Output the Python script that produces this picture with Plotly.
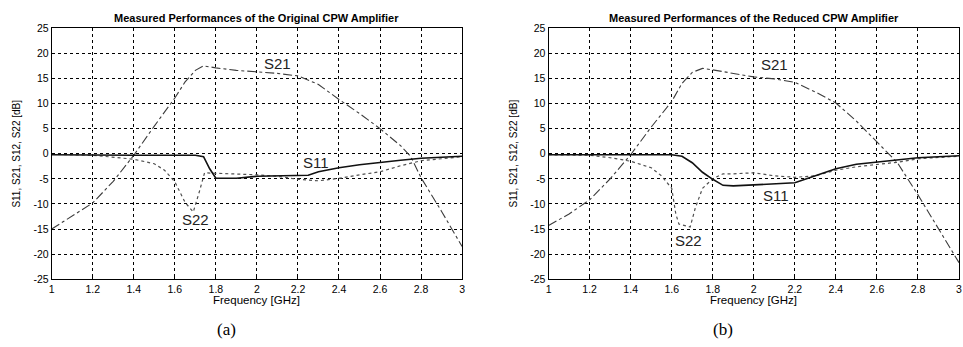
import plotly.graph_objects as go

# ---- data: (a) Original CPW amplifier ----
f_a_s21 = [1.0, 1.1, 1.2, 1.3, 1.4, 1.5, 1.6, 1.65, 1.7, 1.74, 1.8, 1.9, 2.0, 2.1, 2.2, 2.3, 2.4, 2.5, 2.6, 2.7, 2.75, 2.8, 2.9, 3.0]
s21_a = [-15.0, -12.4, -9.8, -5.5, -0.3, 5.5, 11.1, 14.3, 16.6, 17.5, 17.1, 16.6, 16.3, 16.0, 15.5, 13.8, 10.8, 8.0, 5.0, 1.6, -0.6, -4.8, -11.5, -18.5]

f_a_s11 = [1.0, 1.2, 1.4, 1.6, 1.7, 1.74, 1.77, 1.8, 1.9, 2.0, 2.1, 2.2, 2.25, 2.3, 2.4, 2.5, 2.6, 2.7, 2.8, 2.9, 3.0]
s11_a = [-0.2, -0.3, -0.3, -0.3, -0.3, -0.6, -3.0, -4.9, -4.9, -4.5, -4.4, -4.4, -4.3, -3.6, -2.8, -2.2, -1.7, -1.3, -0.9, -0.7, -0.5]

f_a_s22 = [1.0, 1.2, 1.4, 1.5, 1.55, 1.6, 1.65, 1.69, 1.72, 1.745, 1.8, 1.9, 2.0, 2.1, 2.2, 2.3, 2.4, 2.5, 2.6, 2.7, 2.8, 2.9, 3.0]
s22_a = [-0.1, -0.3, -1.1, -2.0, -3.3, -5.6, -9.7, -11.6, -7.5, -3.8, -3.9, -4.0, -4.2, -4.5, -5.1, -5.4, -4.9, -4.2, -3.6, -2.4, -1.4, -1.0, -0.6]

# ---- data: (b) Reduced CPW amplifier ----
f_b_s21 = [1.0, 1.1, 1.2, 1.3, 1.4, 1.5, 1.6, 1.65, 1.7, 1.75, 1.8, 1.9, 2.0, 2.1, 2.2, 2.3, 2.4, 2.5, 2.6, 2.7, 2.8, 2.9, 3.0]
s21_b = [-14.3, -12.0, -9.2, -5.0, -0.2, 5.3, 10.4, 14.0, 16.2, 17.0, 16.7, 16.0, 15.3, 14.9, 14.2, 12.3, 10.1, 6.5, 2.4, -1.8, -8.2, -15.0, -21.7]

f_b_s11 = [1.0, 1.2, 1.4, 1.6, 1.65, 1.7, 1.75, 1.8, 1.85, 1.9, 2.0, 2.1, 2.2, 2.3, 2.4, 2.5, 2.6, 2.7, 2.8, 2.9, 3.0]
s11_b = [-0.2, -0.2, -0.2, -0.2, -0.5, -1.8, -3.7, -5.1, -6.3, -6.4, -6.2, -6.0, -5.8, -4.4, -3.0, -2.1, -1.7, -1.35, -0.8, -0.6, -0.4]

f_b_s22 = [1.0, 1.2, 1.3, 1.4, 1.5, 1.55, 1.6, 1.62, 1.635, 1.69, 1.715, 1.75, 1.8, 1.85, 1.9, 2.0, 2.1, 2.2, 2.3, 2.4, 2.5, 2.6, 2.7, 2.8, 2.9, 3.0]
s22_b = [-0.2, -0.3, -0.8, -1.5, -2.8, -4.4, -6.9, -12.0, -14.0, -14.6, -10.8, -6.9, -5.0, -4.0, -4.0, -3.8, -4.4, -4.7, -4.4, -3.3, -2.6, -2.1, -1.7, -1.0, -0.7, -0.5]

x_ticks = [1, 1.2, 1.4, 1.6, 1.8, 2, 2.2, 2.4, 2.6, 2.8, 3]
x_tick_text = ["1", "1.2", "1.4", "1.6", "1.8", "2", "2.2", "2.4", "2.6", "2.8", "3"]
y_ticks = [25, 20, 15, 10, 5, 0, -5, -10, -15, -20, -25]
y_tick_text = ["25", "20", "15", "10", "5", "0", "-5", "-10", "-15", "-20", "-25"]

titles = ["Measured Performances of the Original CPW Amplifier",
          "Measured Performances of the Reduced CPW Amplifier"]
panel_labels = ["(a)", "(b)"]
# label positions (freq, dB) for each panel: S21, S11, S22
labels_a = [("S21", 2.10, 17.9), ("S11", 2.29, -1.7), ("S22", 1.70, -13.2)]
labels_b = [("S21", 2.10, 17.8), ("S11", 2.11, -8.3), ("S22", 1.68, -17.2)]

W, H = 963, 347
fig = go.Figure()

s21_style = dict(color="#3c3c3c", width=1.1, dash="dashdot")
s11_style = dict(color="#111111", width=1.6)
s22_style = dict(color="#505050", width=1.2, dash="dot")

panels = [
    ("x", "y", f_a_s21, s21_a, f_a_s11, s11_a, f_a_s22, s22_a),
    ("x2", "y2", f_b_s21, s21_b, f_b_s11, s11_b, f_b_s22, s22_b),
]
for xa, ya, f21, v21, f11, v11, f22, v22 in panels:
    fig.add_trace(go.Scatter(x=f21, y=v21, mode="lines", line=s21_style, xaxis=xa, yaxis=ya, showlegend=False))
    fig.add_trace(go.Scatter(x=f22, y=v22, mode="lines", line=s22_style, xaxis=xa, yaxis=ya, showlegend=False))
    fig.add_trace(go.Scatter(x=f11, y=v11, mode="lines", line=s11_style, xaxis=xa, yaxis=ya, showlegend=False))

# pixel geometry
left_px = [(49, 462), (549, 962)]
top_px, bot_px = 23, 283
ydom = [(H - bot_px) / H, (H - top_px) / H]

font_sans = "Liberation Sans, Arial, sans-serif"
axis_common = dict(
    showline=True, mirror=True, linecolor="black", linewidth=1,
    showgrid=True, gridcolor="black", gridwidth=1, griddash="3px,3px",
    zeroline=False, ticks="inside", ticklen=3, tickcolor="black",
    tickfont=dict(family=font_sans, size=10.5, color="black"),
)
layout = dict(
    width=W, height=H, margin=dict(l=0, r=0, t=0, b=0),
    paper_bgcolor="white", plot_bgcolor="white",
)
for i, (l, r) in enumerate(left_px):
    sfx = "" if i == 0 else str(i + 1)
    layout["xaxis" + sfx] = dict(axis_common, domain=[l / W, r / W], range=[1, 3],
                                 tickvals=x_ticks, ticktext=x_tick_text,
                                 anchor="y" + sfx)
    layout["yaxis" + sfx] = dict(axis_common, domain=ydom, range=[-25, 25],
                                 tickvals=y_ticks, ticktext=y_tick_text, anchor="x" + sfx)
fig.update_layout(**layout)

annotations = []
for i, (l, r) in enumerate(left_px):
    cx = (l + r) / 2 / W
    annotations.append(dict(text="<b>" + titles[i] + "</b>", xref="paper", yref="paper", x=cx, y=1 - 12 / H,
                            showarrow=False, xanchor="center", yanchor="middle",
                            font=dict(family=font_sans, size=11, color="black")))
    annotations.append(dict(text="Frequency [GHz]", xref="paper", yref="paper", x=cx, y=1 - 305 / H,
                            showarrow=False, xanchor="center", yanchor="middle",
                            font=dict(family=font_sans, size=11.5, color="black")))
    annotations.append(dict(text="S11, S21, S12, S22 [dB]", xref="paper", yref="paper",
                            x=(l - 35) / W, y=1 - 153 / H, textangle=-90,
                            showarrow=False, xanchor="center", yanchor="middle",
                            font=dict(family=font_sans, size=10, color="black")))
    annotations.append(dict(text=panel_labels[i], xref="paper", yref="paper",
                            x=(l + 176) / W, y=1 - 335 / H,
                            showarrow=False, xanchor="center", yanchor="middle",
                            font=dict(family="Liberation Serif, Times New Roman, serif", size=17, color="black")))

for i, labs in enumerate([labels_a, labels_b]):
    sfx = "" if i == 0 else str(i + 1)
    for txt, fx, fy in labs:
        annotations.append(dict(text=txt, x=fx, y=fy, xref="x" + sfx, yref="y" + sfx,
                                showarrow=False, xanchor="center", yanchor="middle",
                                font=dict(family=font_sans, size=15, color="#222")))
fig.update_layout(annotations=annotations)

fig.write_html("out.html")
